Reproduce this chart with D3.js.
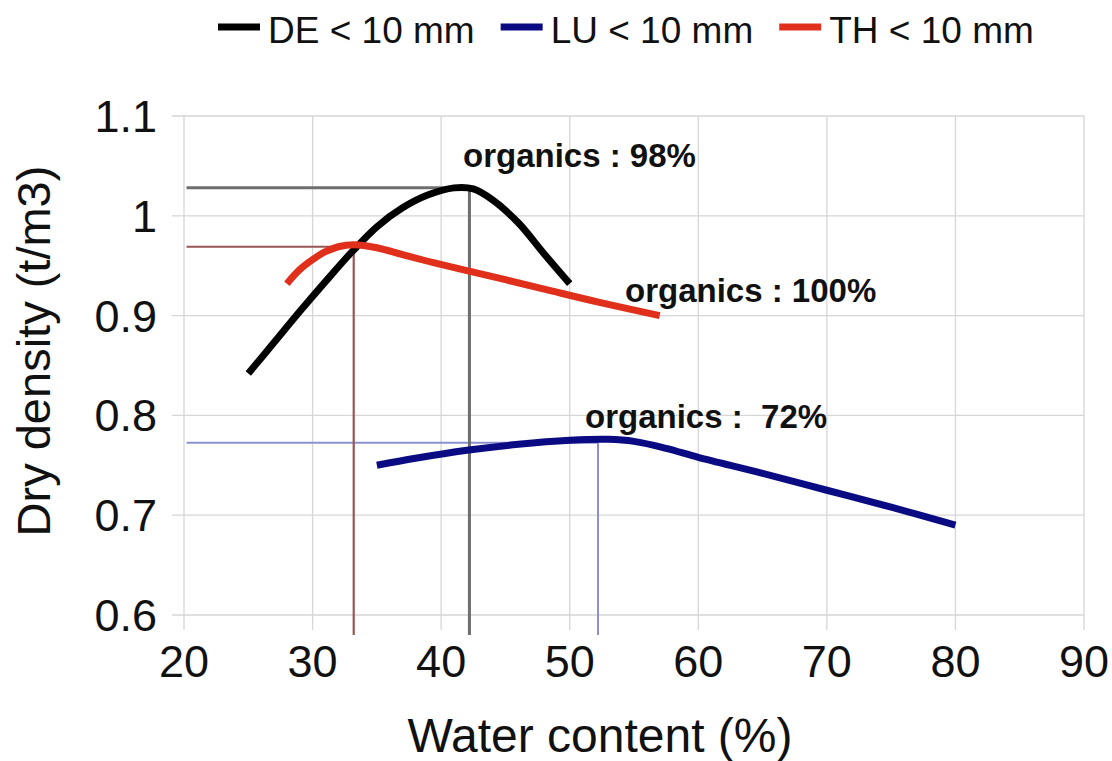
<!DOCTYPE html>
<html>
<head>
<meta charset="utf-8">
<script src="https://cdn.jsdelivr.net/npm/d3@7"></script>
<style>
  html, body { margin: 0; padding: 0; background: #fff; }
  svg { display: block; font-family: "Liberation Sans", Arial, sans-serif; }
</style>
</head>
<body>
<svg id="chart" width="1112" height="761"></svg>
<script>
// ---- data ----
const seriesNames = ["DE < 10 mm", "LU < 10 mm", "TH < 10 mm"];
const seriesColors = ["#000000", "#0a0a82", "#e0301c"];
const refColors = ["#6e6e6e", "#8c90d2", "#9a5555"];

const deWater   = [25, 27, 29, 31, 33, 35, 37, 39, 41, 42.5, 44, 46, 48, 50];
const deDensity = [0.842, 0.873, 0.904, 0.934, 0.963, 0.989, 1.008, 1.021, 1.028, 1.027, 1.016, 0.993, 0.962, 0.932];

const luWater   = [35, 38, 42, 46, 50, 53, 55, 57.5, 60, 65, 70, 75, 80];
const luDensity = [0.750, 0.757, 0.765, 0.771, 0.775, 0.776, 0.774, 0.767, 0.758, 0.742, 0.725, 0.708, 0.690];

const thWater   = [28, 29, 30, 31, 32, 33.2, 35, 37, 39.4, 42, 45, 48.5, 52.4, 57];
const thDensity = [0.932, 0.946, 0.956, 0.964, 0.969, 0.971, 0.968, 0.961, 0.953, 0.945, 0.936, 0.925, 0.913, 0.900];

// peaks (optimum) used for the reference lines: DE, LU, TH
const peakWater   = [42.2, 52.2, 33.2];
const peakDensity = [1.028, 0.7725, 0.969];

const xTicks = [20, 30, 40, 50, 60, 70, 80, 90];
const yTicks = [0.6, 0.7, 0.8, 0.9, 1.0, 1.1];
const yTickLabels = ["0.6", "0.7", "0.8", "0.9", "1", "1.1"];

const annotations = ["organics : 98%", "organics : 100%", "organics :  72%"];
const annX = [463, 625, 585];
const annY = [167, 302, 428];

const xTitle = "Water content (%)";
const yTitle = "Dry density (t/m3)";

// ---- chart ----
const svg = d3.select("#chart");
const x = d3.scaleLinear().domain([20, 90]).range([184, 1084]);
const y = d3.scaleLinear().domain([0.6, 1.1]).range([615, 116]);

const grid = svg.append("g");
grid.selectAll("line.h").data(yTicks).join("line")
  .attr("x1", 172).attr("x2", x(90))
  .attr("y1", d => y(d)).attr("y2", d => y(d))
  .attr("stroke", "#d6d6d6").attr("stroke-width", 1.3);
grid.selectAll("line.v").data(xTicks).join("line")
  .attr("x1", d => x(d)).attr("x2", d => x(d))
  .attr("y1", y(1.1)).attr("y2", 630)
  .attr("stroke", "#d6d6d6").attr("stroke-width", 1.3);

// tick labels
svg.append("g").selectAll("text").data(yTicks).join("text")
  .attr("x", 157).attr("y", d => y(d) + 16)
  .attr("text-anchor", "end").attr("font-size", 45).attr("fill", "#111")
  .text((d, i) => yTickLabels[i]);
svg.append("g").selectAll("text").data(xTicks).join("text")
  .attr("x", d => x(d)).attr("y", 677)
  .attr("text-anchor", "middle").attr("font-size", 45).attr("fill", "#111")
  .text(d => d);

// axis titles
svg.append("text").attr("x", 600).attr("y", 752)
  .attr("text-anchor", "middle").attr("font-size", 48).attr("fill", "#111")
  .text(xTitle);
svg.append("text").attr("transform", "translate(50,351) rotate(-90)")
  .attr("text-anchor", "middle").attr("font-size", 47).attr("fill", "#111")
  .text(yTitle);

// reference lines (blue, red, gray order so gray on top)
const refOrder = [1, 2, 0];
const refW = [3, 2, 2.2];
const refG = svg.append("g");
refOrder.forEach(i => {
  refG.append("line")
    .attr("x1", x(20.2)).attr("x2", x(peakWater[i]))
    .attr("y1", y(peakDensity[i])).attr("y2", y(peakDensity[i]))
    .attr("stroke", refColors[i]).attr("stroke-width", refW[i]);
});
refOrder.forEach(i => {
  refG.append("line")
    .attr("x1", x(peakWater[i])).attr("x2", x(peakWater[i]))
    .attr("y1", y(peakDensity[i])).attr("y2", y(0.58))
    .attr("stroke", refColors[i]).attr("stroke-width", refW[i]);
});

// data lines
const series = [
  deWater.map((w, i) => [w, deDensity[i]]),
  luWater.map((w, i) => [w, luDensity[i]]),
  thWater.map((w, i) => [w, thDensity[i]])
];
const line = d3.line().x(d => x(d[0])).y(d => y(d[1])).curve(d3.curveCatmullRom.alpha(0.5));
svg.append("g").selectAll("path").data(series).join("path")
  .attr("d", line)
  .attr("fill", "none")
  .attr("stroke", (d, i) => seriesColors[i])
  .attr("stroke-width", 7)
  .attr("stroke-linecap", "butt")
  .attr("stroke-linejoin", "round");

// annotations
svg.append("g").selectAll("text").data(annotations).join("text")
  .attr("x", (d, i) => annX[i]).attr("y", (d, i) => annY[i])
  .attr("font-size", 33).attr("font-weight", "bold").attr("fill", "#111")
  .style("white-space", "pre")
  .text(d => d);

// legend
const leg = svg.append("g");
let lx = 218;
seriesNames.forEach((name, i) => {
  leg.append("line").attr("x1", lx).attr("x2", lx + 42)
    .attr("y1", 27).attr("y2", 27)
    .attr("stroke", seriesColors[i]).attr("stroke-width", 7);
  const t = leg.append("text").attr("x", lx + 50).attr("y", 43)
    .attr("font-size", 37).attr("fill", "#111").text(name);
  lx += 50 + t.node().getComputedTextLength() + 26;
});
</script>
</body>
</html>
